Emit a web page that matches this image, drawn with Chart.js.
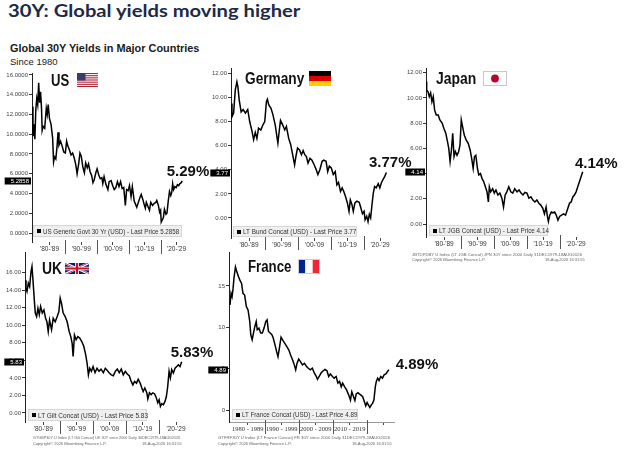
<!DOCTYPE html>
<html>
<head>
<meta charset="utf-8">
<title>30Y: Global yields moving higher</title>
<script src="https://cdn.jsdelivr.net/npm/chart.js@4.4.1/dist/chart.umd.min.js"></script>
<style>
  html, body { margin: 0; padding: 0; background: #fff; }
  body { width: 624px; height: 456px; position: relative; overflow: hidden; font-family: "Liberation Sans", Arial, sans-serif; }
  canvas { position: absolute; }
  .t { position: absolute; white-space: nowrap; line-height: 1; transform-origin: 0 0; }
  .pt { font-weight: bold; font-size: 16px; color: #111; }
  .pct { font-weight: bold; font-size: 15px; color: #111; }
  .flag { position: absolute; }
  .lg { position: absolute; box-sizing: border-box; background: #efefef; border: 1px solid #d6d6d6; font-size: 6.4px; color: #333; display: flex; align-items: center; padding-left: 3px; white-space: nowrap; }
  .lg i { display: inline-block; width: 4px; height: 4px; background: #000; margin-right: 2px; flex: none; }
  .lg span { display: inline-block; flex: none; transform-origin: 0 50%; }
  .src { font-size: 4px; color: #666; }
</style>
</head>
<body>

<canvas id="c-us"></canvas>
<canvas id="c-de"></canvas>
<canvas id="c-jp"></canvas>
<canvas id="c-uk"></canvas>
<canvas id="c-fr"></canvas>

<div class="t fit" data-w="292" style="left:8px;top:3px;font-family:Lato;font-weight:bold;font-size:16.5px;color:#1c2a48">30Y: Global yields moving higher</div>
<div class="t fit" data-w="189" style="left:10px;top:41.8px;font-weight:bold;font-size:11.6px;color:#1a1a1a">Global 30Y Yields in Major Countries</div>
<div class="t" style="left:10px;top:57.1px;font-size:9.5px;color:#1a1a1a">Since 1980</div>

<!-- panel titles -->
<div class="t pt fit" data-w="18" style="left:51px;top:72.9px">US</div>
<div class="t pt fit" data-w="59" style="left:245px;top:70.6px">Germany</div>
<div class="t pt fit" data-w="40" style="left:436px;top:70.6px">Japan</div>
<div class="t pt fit" data-w="20" style="left:42px;top:261.2px">UK</div>
<div class="t pt fit" data-w="43" style="left:248px;top:258.6px">France</div>

<!-- flags -->
<svg class="flag" style="left:77px;top:73px" width="21" height="14" viewBox="0 0 21 14" preserveAspectRatio="none">
  <rect width="21" height="14" fill="#fff"/>
  <g fill="#b22234">
    <rect y="0" width="21" height="1.08"/><rect y="2.15" width="21" height="1.08"/><rect y="4.31" width="21" height="1.08"/>
    <rect y="6.46" width="21" height="1.08"/><rect y="8.62" width="21" height="1.08"/><rect y="10.77" width="21" height="1.08"/>
    <rect y="12.92" width="21" height="1.08"/>
  </g>
  <rect width="8.5" height="7.54" fill="#3c3b6e"/>
</svg>
<svg class="flag" style="left:309px;top:71px" width="22" height="15" viewBox="0 0 22 15" preserveAspectRatio="none">
  <rect width="22" height="5" y="0" fill="#000"/>
  <rect width="22" height="5" y="5" fill="#dd0000"/>
  <rect width="22" height="5" y="10" fill="#ffce00"/>
</svg>
<svg class="flag" style="left:483px;top:71px" width="24" height="15" viewBox="0 0 24 15">
  <rect x="0.5" y="0.5" width="23" height="14" fill="#fff" stroke="#c8c8c8"/>
  <circle cx="12" cy="7.5" r="3.9" fill="#bc002d"/>
</svg>
<svg class="flag" style="left:65px;top:263px" width="24" height="11" viewBox="0 0 60 30" preserveAspectRatio="none">
  <clipPath id="ukS"><path d="M0,0 v30 h60 v-30 z"/></clipPath>
  <clipPath id="ukT"><path d="M30,15 h30 v15 z v15 h-30 z h-30 v-15 z v-15 h30 z"/></clipPath>
  <g clip-path="url(#ukS)">
    <path d="M0,0 v30 h60 v-30 z" fill="#012169"/>
    <path d="M0,0 L60,30 M60,0 L0,30" stroke="#fff" stroke-width="6"/>
    <path d="M0,0 L60,30 M60,0 L0,30" clip-path="url(#ukT)" stroke="#c8102e" stroke-width="4"/>
    <path d="M30,0 v30 M0,15 h60" stroke="#fff" stroke-width="10"/>
    <path d="M30,0 v30 M0,15 h60" stroke="#c8102e" stroke-width="6"/>
  </g>
</svg>
<svg class="flag" style="left:298px;top:259px" width="22" height="15" viewBox="0 0 22 15">
  <rect x="0" y="0" width="7.33" height="15" fill="#002395"/>
  <rect x="7.33" y="0" width="7.34" height="15" fill="#fff"/>
  <rect x="14.67" y="0" width="7.33" height="15" fill="#ed2939"/>
  <rect x="0.5" y="0.5" width="21" height="14" fill="none" stroke="#ccc"/>
</svg>

<!-- big last-value labels -->
<div class="t pct" id="pct-us" style="left:166.7px;top:163px"></div>
<div class="t pct" id="pct-de" style="left:369px;top:154px"></div>
<div class="t pct" id="pct-jp" style="left:575px;top:154.7px"></div>
<div class="t pct" id="pct-uk" style="left:170.7px;top:344px"></div>
<div class="t pct" id="pct-fr" style="left:395.7px;top:356.3px"></div>

<!-- legends -->
<div class="lg" id="lg-us" data-w="136" style="left:33px;top:225px;width:149px;height:12px"></div>
<div class="lg" id="lg-de" data-w="113" style="left:233px;top:226px;width:124px;height:11px"></div>
<div class="lg" id="lg-jp" data-w="110" style="left:429px;top:225px;width:119px;height:11px"></div>
<div class="lg" id="lg-uk" data-w="110" style="left:28px;top:409px;width:119px;height:12px"></div>
<div class="lg" id="lg-fr" data-w="115" style="left:232px;top:409px;width:126px;height:11px"></div>

<!-- source lines -->
<div class="t src fit" data-w="170" style="left:412px;top:253px">JBTDPDBY U Index (LT JGB Concat) JPN 30Y since 2000 Daily 31DEC1979-18AUG2026</div>
<div class="t src" style="left:412px;top:258px">Copyright© 2026 Bloomberg Finance L.P.</div>
<div class="t src" style="left:545px;top:258px">18-Aug-2026 16:31:55</div>
<div class="t src fit" data-w="147" style="left:33px;top:436px">GTGBP30Y U Index (LT Gilt Concat) UK 30Y since 2000 Daily 30DEC1979-18AUG2026</div>
<div class="t src" style="left:33px;top:441.5px">Copyright© 2026 Bloomberg Finance L.P.</div>
<div class="t src" style="left:142px;top:441.5px">18-Aug-2026 16:31:55</div>
<div class="t src fit" data-w="172" style="left:218px;top:436px">GTFRF30Y U Index (LT France Concat) FR 30Y since 2000 Daily 31DEC1979-18AUG2026</div>
<div class="t src" style="left:218px;top:441.5px">Copyright© 2026 Bloomberg Finance L.P.</div>
<div class="t src" style="left:352px;top:441.5px">18-Aug-2026 16:31:55</div>

<script>
// ---- data ----
var usYears = [1979.6,1979.8,1980.1,1980.4,1980.7,1981.0,1981.3,1981.6,1981.9,1982.2,1982.5,1982.7,1983.0,1983.5,1984.0,1984.3,1984.6,1985.0,1985.5,1986.0,1986.3,1986.6,1987.0,1987.4,1987.7,1988.0,1988.5,1989.0,1989.5,1990.0,1990.4,1990.8,1991.3,1991.8,1992.3,1992.8,1993.3,1993.7,1994.2,1994.6,1995.0,1995.5,1996.0,1996.4,1996.9,1997.3,1997.8,1998.3,1998.7,1999.1,1999.6,2000.0,2000.5,2001.0,2001.5,2001.8,2002.2,2002.8,2003.4,2003.8,2004.4,2004.9,2005.4,2005.9,2006.4,2006.9,2007.4,2007.9,2008.4,2008.9,2009.3,2009.8,2010.2,2010.7,2011.1,2011.7,2012.0,2012.5,2013.0,2013.5,2013.9,2014.4,2014.9,2015.2,2015.5,2016.0,2016.5,2016.9,2017.5,2018.0,2018.5,2018.8,2019.3,2019.7,2020.0,2020.2,2020.5,2020.9,2021.2,2021.7,2022.0,2022.4,2022.8,2023.2,2023.5,2023.8,2024.1,2024.5,2024.9,2025.3,2025.7,2026.1,2026.5,2026.8];
var usYields = [12.8,9.8,11.0,9.5,12.5,13.6,13.0,15.2,13.2,14.3,12.6,10.4,10.8,10.6,12.6,12.0,13.0,11.6,11.0,9.6,7.2,7.7,7.5,8.8,10.2,8.9,9.3,8.8,8.2,8.1,9.3,8.8,8.4,7.9,8.1,7.6,6.9,6.0,7.0,8.1,7.8,6.7,6.1,7.1,6.6,7.0,6.2,5.8,5.1,5.4,6.1,6.5,5.9,5.5,5.6,5.0,5.7,4.9,4.4,5.2,5.3,4.8,4.4,4.6,5.2,4.7,5.2,4.5,4.6,2.8,4.4,4.3,4.8,3.7,4.7,3.2,3.0,2.6,3.1,3.6,3.9,3.4,2.8,2.5,3.1,2.7,2.3,3.1,2.8,3.0,3.1,3.3,2.8,2.1,2.3,1.1,1.3,1.6,2.4,1.9,2.0,3.2,4.2,3.8,4.1,5.0,4.4,4.7,4.6,4.9,4.8,5.0,5.1,5.2858];

var deYears = [1979.6,1979.8,1980.3,1980.8,1981.3,1981.6,1982.0,1982.6,1983.2,1983.9,1984.6,1985.2,1985.9,1986.4,1986.9,1987.4,1987.9,1988.6,1989.2,1989.8,1990.3,1990.6,1991.0,1991.7,1992.3,1993.0,1993.5,1993.8,1994.2,1994.6,1995.3,1995.9,1996.4,1997.1,1997.7,1998.3,1998.9,1999.3,1999.8,2000.4,2001.0,2001.5,2002.0,2002.5,2003.0,2003.6,2004.2,2004.9,2005.5,2006.0,2006.6,2007.3,2007.8,2008.5,2009.0,2009.5,2010.1,2010.7,2011.3,2011.8,2012.3,2012.9,2013.4,2013.9,2014.4,2015.0,2015.5,2015.9,2016.4,2016.8,2017.3,2017.9,2018.6,2019.1,2019.6,2020.1,2020.4,2020.9,2021.3,2021.7,2022.1,2022.5,2022.9,2023.3,2023.8,2024.4,2024.9,2025.4,2025.9,2026.4,2026.9];
var deYields = [9.5,8.4,8.7,10.6,11.3,10.9,9.8,8.8,9.0,8.7,9.0,8.0,7.2,6.5,7.1,6.6,7.45,7.3,7.7,8.0,9.65,9.85,9.4,9.1,8.55,7.7,6.75,6.2,7.2,8.1,7.7,7.3,7.6,6.6,6.1,5.25,4.4,5.1,5.8,5.65,5.25,5.6,5.25,5.1,4.55,4.95,4.8,4.4,4.0,3.6,4.0,4.7,4.8,4.7,3.85,4.3,4.15,3.6,3.85,2.75,2.95,2.2,2.5,2.2,1.8,1.25,0.55,1.5,1.1,0.55,1.25,1.4,1.3,0.85,0.35,0.55,-0.15,0.15,-0.3,0.3,0.0,1.1,2.05,2.6,2.5,2.85,2.5,2.95,3.2,3.45,3.77];

var jpYears = [1979.5,1979.7,1980.1,1980.5,1980.9,1981.3,1981.7,1982.1,1982.6,1983.2,1983.7,1984.4,1984.9,1985.5,1986.0,1986.4,1986.8,1987.2,1987.6,1988.0,1988.4,1988.9,1989.4,1989.8,1990.2,1990.6,1991.1,1991.7,1992.3,1992.9,1993.4,1993.8,1994.2,1994.6,1995.1,1995.5,1996.0,1996.5,1997.0,1997.5,1998.0,1998.4,1998.7,1999.1,1999.7,2000.2,2000.7,2001.3,2001.9,2002.5,2003.0,2003.5,2004.0,2004.6,2005.2,2005.8,2006.4,2007.1,2007.7,2008.3,2008.9,2009.5,2010.1,2010.7,2011.3,2011.9,2012.5,2013.1,2013.7,2014.3,2014.9,2015.4,2015.9,2016.3,2016.6,2017.0,2017.5,2018.0,2018.5,2019.0,2019.5,2020.0,2020.6,2021.2,2021.8,2022.5,2023.0,2023.5,2024.0,2024.5,2025.0,2025.5,2026.0,2026.5,2027.0];
var jpYields = [11.3,10.6,10.5,10.1,10.4,9.7,10.1,9.05,8.65,8.65,8.25,8.0,7.6,7.2,6.55,6.0,4.95,5.85,7.2,5.35,5.75,5.45,5.75,6.25,8.25,7.7,7.05,6.65,6.4,5.85,5.1,4.4,5.35,5.45,4.4,3.9,4.0,3.6,3.35,2.95,2.55,1.75,2.95,2.55,2.8,2.45,2.7,2.3,2.45,2.05,1.35,2.3,2.55,2.95,2.55,2.45,2.8,2.55,2.7,2.45,2.3,2.5,2.45,2.05,2.15,1.9,1.75,1.9,1.65,1.5,1.25,0.8,1.35,0.6,0.2,0.7,0.95,0.9,0.95,0.7,0.3,0.6,0.7,0.8,0.7,1.25,1.65,1.75,2.15,2.3,2.55,2.95,3.35,3.75,4.14];

var ukYears = [1979.6,1979.8,1980.1,1980.5,1980.9,1981.3,1981.6,1981.9,1982.3,1982.6,1983.0,1983.4,1983.8,1984.2,1984.7,1985.2,1985.7,1986.1,1986.5,1986.9,1987.5,1988.0,1988.6,1989.2,1989.7,1990.1,1990.5,1991.0,1991.6,1992.2,1992.8,1993.3,1993.7,1994.0,1994.4,1994.9,1995.4,1996.0,1996.6,1997.2,1997.7,1998.2,1998.6,1999.0,1999.5,2000.0,2000.6,2001.2,2001.8,2002.4,2003.1,2003.7,2004.3,2004.9,2005.5,2006.1,2006.7,2007.3,2007.9,2008.5,2009.1,2009.7,2010.3,2010.9,2011.5,2012.0,2012.5,2013.1,2013.6,2014.2,2014.7,2015.1,2015.6,2016.2,2016.5,2017.0,2017.5,2018.0,2018.5,2019.0,2019.5,2019.9,2020.3,2020.7,2021.2,2021.7,2022.1,2022.5,2022.9,2023.3,2023.7,2024.2,2024.7,2025.2,2025.7,2026.2,2026.7];
var ukYields = [15.15,14.2,13.85,14.8,14.4,16.1,16.7,15.15,12.9,11.4,11.0,11.95,11.2,12.15,11.4,11.75,10.8,10.4,9.3,10.6,9.5,10.8,10.4,11.0,11.55,13.1,12.5,11.4,11.0,10.4,9.3,8.7,7.95,6.45,8.9,8.35,8.7,8.55,8.15,7.6,6.8,5.7,4.35,5.1,4.75,5.3,4.6,5.1,4.75,5.0,4.6,5.1,4.85,4.55,4.35,4.25,4.75,5.0,4.6,5.0,4.35,4.75,4.45,4.25,3.6,3.2,3.6,3.4,3.85,3.4,2.85,2.45,2.85,2.3,1.6,2.3,2.1,2.3,2.2,1.8,1.15,1.5,0.75,1.05,0.95,1.35,1.9,3.05,4.75,4.0,4.95,4.55,5.1,5.3,5.5,5.3,5.83];

var frYears = [1979.8,1980.1,1980.4,1980.7,1981.0,1981.4,1981.8,1982.3,1982.7,1983.2,1983.6,1984.1,1984.6,1985.1,1985.6,1985.9,1986.3,1986.7,1987.1,1987.5,1987.8,1988.3,1988.8,1989.3,1989.8,1990.3,1990.7,1991.1,1991.6,1992.1,1992.5,1993.0,1993.5,1993.9,1994.3,1994.8,1995.3,1995.9,1996.5,1997.1,1997.6,1998.2,1998.7,1999.1,1999.5,2000.0,2000.5,2001.1,2001.7,2002.3,2002.8,2003.4,2004.0,2004.6,2005.1,2005.5,2006.0,2006.6,2007.2,2007.7,2008.3,2008.8,2009.3,2009.8,2010.4,2011.0,2011.5,2012.0,2012.5,2012.9,2013.5,2014.1,2014.7,2015.2,2015.6,2016.1,2016.5,2016.9,2017.4,2017.8,2018.3,2018.8,2019.3,2019.7,2020.1,2020.5,2020.9,2021.3,2021.7,2022.1,2022.5,2022.8,2023.2,2023.6,2024.1,2024.6,2025.1,2025.6,2026.1,2026.5];
var frYields = [12.7,14.1,13.7,14.7,16.1,17.3,16.7,16.1,15.7,15.3,14.1,13.9,12.5,12.1,10.7,9.1,8.5,9.3,10.1,10.7,9.7,9.9,9.3,9.3,9.9,10.7,10.9,9.5,9.3,9.1,8.7,7.9,7.05,6.45,7.45,8.8,8.45,8.05,7.65,7.25,6.65,6.05,5.45,4.85,5.65,6.15,5.85,5.45,5.65,5.25,5.05,4.85,5.05,4.45,4.1,3.7,4.05,4.5,4.75,4.9,4.75,4.05,4.35,4.1,3.85,4.05,3.25,3.45,2.8,3.25,2.8,2.4,1.8,1.2,2.2,1.6,1.15,1.95,2.1,1.95,1.8,1.6,1.0,0.5,0.9,0.6,0.3,0.6,0.8,1.2,2.8,3.45,3.85,3.55,4.05,3.85,4.25,4.35,4.65,4.89];

// axis ticks and labels
var labelYears = [1985, 1995, 2005, 2015, 2025];
var decadeBreaks = [1990, 2000, 2010, 2020];
var shortLabels = ["'80-'89", "'90-'99", "'00-'09", "'10-'19", "'20-'29"];
var longLabels = ['1980 - 1989', '1990 - 1999', '2000 - 2009', '2010 - 2019', ''];
var ticks16 = [0, 2, 4, 6, 8, 10, 12, 14, 16];
var ticks12 = [0, 2, 4, 6, 8, 10, 12];
var ticks15 = [0, 5, 10, 15];

var seriesNames = {
  us: 'US Generic Govt 30 Yr (USD)',
  de: 'LT Bund Concat (USD)',
  jp: 'LT JGB Concat (USD)',
  uk: 'LT Gilt Concat (USD)',
  fr: 'LT France Concat (USD)'
};

// decade separators + black "last price" tag on the y axis
var bbgPlugin = {
  id: 'bbg',
  afterDraw: function (chart, args, opts) {
    var ctx = chart.ctx, area = chart.chartArea, x = chart.scales.x, y = chart.scales.y;
    ctx.save();
    ctx.strokeStyle = '#555';
    ctx.lineWidth = 1;
    decadeBreaks.forEach(function (yr) {
      var px = Math.round(x.getPixelForValue(yr)) + 0.5;
      ctx.beginPath();
      ctx.moveTo(px, area.bottom - 2);
      ctx.lineTo(px, area.bottom + 12);
      ctx.stroke();
    });
    var pts = chart.data.datasets[0].data;
    var last = pts[pts.length - 1].y;
    var py = Math.round(y.getPixelForValue(last));
    var txt = last.toFixed(opts.decimals);
    ctx.font = '6px "Liberation Sans"';
    var w = ctx.measureText(txt).width + 8;
    ctx.fillStyle = '#000';
    ctx.fillRect(area.left - 1 - w, py - 3.5, w, 7);
    ctx.fillStyle = '#fff';
    ctx.textAlign = 'right';
    ctx.textBaseline = 'middle';
    ctx.fillText(txt, area.left - 3, py + 0.5);
    ctx.restore();
  }
};

// canvas box = [left, top, width, height]; chart area sits 30px in from the left and 6px down
var panels = [
  { key: 'us', years: usYears, yields: usYields, dec: 4, yTicks: ticks16, yDec: 4, min: -0.91, max: 16.2, box: [2, 67, 194, 189], xLabels: shortLabels, serif: false },
  { key: 'de', years: deYears, yields: deYields, dec: 2, yTicks: ticks12, yDec: 2, min: -1.66, max: 12.44, box: [201, 62, 199, 190], xLabels: shortLabels, serif: false },
  { key: 'jp', years: jpYears, yields: jpYields, dec: 2, yTicks: ticks12, yDec: 2, min: -1.03, max: 12.37, box: [396, 62, 200, 189], xLabels: shortLabels, serif: false },
  { key: 'uk', years: ukYears, yields: ukYields, dec: 2, yTicks: ticks16, yDec: 2, min: -1.03, max: 18.36, box: [-5, 246, 201, 190], xLabels: shortLabels, serif: false },
  { key: 'fr', years: frYears, yields: frYields, dec: 2, yTicks: ticks15, yDec: 0, min: -1.45, max: 19.1, box: [199, 246, 205, 190], xLabels: longLabels, serif: true }
];

panels.forEach(function (p) {
  var cv = document.getElementById('c-' + p.key);
  cv.width = p.box[2];
  cv.height = p.box[3];
  cv.style.left = p.box[0] + 'px';
  cv.style.top = p.box[1] + 'px';

  var pts = p.years.map(function (yr, i) { return { x: yr, y: p.yields[i] }; });

  new Chart(cv, {
    type: 'line',
    data: { datasets: [{ data: pts, borderColor: '#000', borderWidth: 1.5, pointRadius: 0, tension: 0, fill: false }] },
    options: {
      responsive: false,
      animation: false,
      events: [],
      layout: { padding: { top: 6, right: 10, left: 0, bottom: 0 } },
      plugins: { legend: { display: false }, tooltip: { enabled: false }, bbg: { decimals: p.dec } },
      scales: {
        x: {
          type: 'linear', min: 1979.5, max: 2028,
          afterBuildTicks: function (s) { s.ticks = labelYears.map(function (v) { return { value: v }; }); },
          afterFit: function (s) { s.height = 14; },
          ticks: {
            autoSkip: false, maxRotation: 0, padding: 0, color: '#333',
            font: { family: p.serif ? 'Liberation Serif' : 'Liberation Sans', size: 6.5 },
            callback: function (v, i) { return p.xLabels[i]; }
          },
          grid: { drawOnChartArea: false, tickLength: 3, color: '#444' },
          border: { display: p.serif, color: '#999' }
        },
        y: {
          min: p.min, max: p.max,
          afterBuildTicks: function (s) { s.ticks = p.yTicks.map(function (v) { return { value: v }; }); },
          afterFit: function (s) { s.width = 30; },
          ticks: {
            padding: 1, color: '#444',
            font: { family: 'Liberation Sans', size: 6 },
            callback: function (v) { return Number(v).toFixed(p.yDec); }
          },
          grid: { drawOnChartArea: false, tickLength: 3, color: '#333' },
          border: { display: true, color: '#222', width: 1 }
        }
      }
    },
    plugins: [bbgPlugin]
  });

  var last = p.yields[p.yields.length - 1];
  document.getElementById('pct-' + p.key).textContent = last.toFixed(2) + '%';
  var lg = document.getElementById('lg-' + p.key);
  lg.innerHTML = '<i></i><span class="fit" data-w="' + lg.dataset.w + '">' + seriesNames[p.key] + ' - Last Price ' + last.toFixed(p.dec) + '</span>';
});

// squeeze text to the width it has in the reference
function fitAll() {
  document.querySelectorAll('.fit').forEach(function (el) {
    el.style.transform = 'none';
    var w = el.offsetWidth;
    if (w > 0) el.style.transform = 'scaleX(' + (parseFloat(el.dataset.w) / w) + ')';
  });
}
fitAll();
if (document.fonts && document.fonts.ready) document.fonts.ready.then(fitAll);
</script>
</body>
</html>
